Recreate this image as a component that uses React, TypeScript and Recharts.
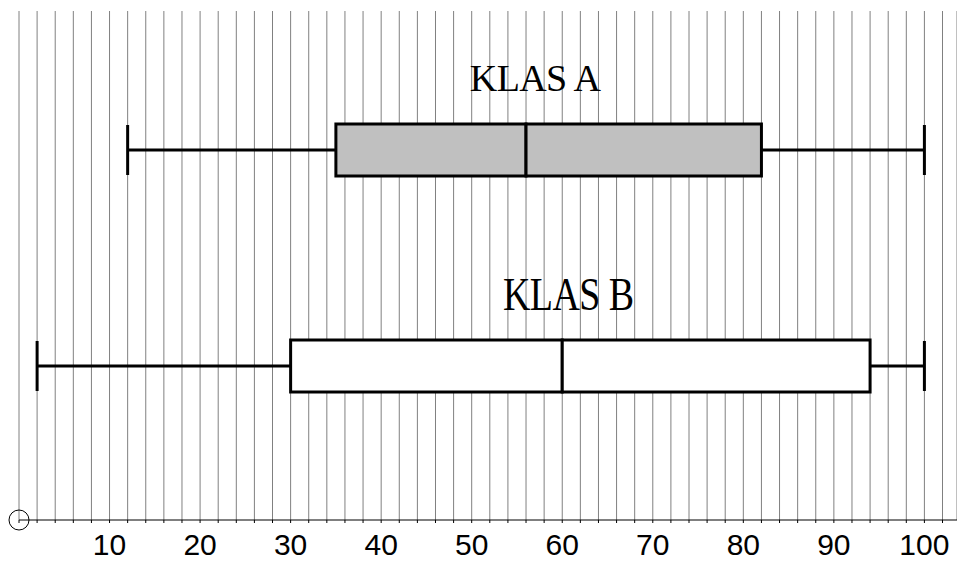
import React from 'react';
import { ComposedChart, Bar, XAxis, YAxis, CartesianGrid, Cell, LabelList } from 'recharts';

const categories = ['KLAS A', 'KLAS B'];
const minValues = [12, 2];
const q1Values = [35, 30];
const medianValues = [56, 60];
const q3Values = [82, 94];
const maxValues = [100, 100];
const boxFills = ['#c0c0c0', '#ffffff'];
const gridTicks = [0, 2, 4, 6, 8, 10, 12, 14, 16, 18, 20, 22, 24, 26, 28, 30, 32, 34, 36, 38, 40, 42, 44, 46, 48, 50, 52, 54, 56, 58, 60, 62, 64, 66, 68, 70, 72, 74, 76, 78, 80, 82, 84, 86, 88, 90, 92, 94, 96, 98, 100, 102];
const tickLabels = [10, 20, 30, 40, 50, 60, 70, 80, 90, 100];

// label placement styles (relative to the median edge of the box)
const labelStyles = [
  { dx: 9, dy: -33, sy: 1.0 },
  { dx: 6, dy: -30, sy: 1.22 },
];

const data = categories.map((name, i) => ({
  name,
  base: minValues[i],
  whiskerLow: q1Values[i] - minValues[i],
  boxLow: medianValues[i] - q1Values[i],
  boxHigh: q3Values[i] - medianValues[i],
  whiskerHigh: maxValues[i] - q3Values[i],
}));

const WhiskerLow = (props: any) => {
  const { x, y, width, height } = props;
  const cy = y + height / 2;
  return (
    <g>
      <line x1={x} x2={x + width} y1={cy} y2={cy} stroke="#000" strokeWidth={3} />
      <line x1={x} x2={x} y1={y + 1} y2={y + height - 1} stroke="#000" strokeWidth={3} />
    </g>
  );
};

const WhiskerHigh = (props: any) => {
  const { x, y, width, height } = props;
  const cy = y + height / 2;
  return (
    <g>
      <line x1={x} x2={x + width} y1={cy} y2={cy} stroke="#000" strokeWidth={3} />
      <line x1={x + width} x2={x + width} y1={y + 1} y2={y + height - 1} stroke="#000" strokeWidth={3} />
    </g>
  );
};

const BoxShape = (props: any) => {
  const { x, y, width, height, fill } = props;
  return <rect x={x} y={y} width={width} height={height} fill={fill} stroke="#000" strokeWidth={3} />;
};

const AxisTick = (props: any) => {
  const { x, y, payload } = props;
  const v = payload.value;
  return (
    <g>
      {v === 0 && <circle cx={x} cy={y - 5} r={10} fill="none" stroke="#000" strokeWidth={1} />}
      {tickLabels.includes(v) && (
        <text x={x} y={y + 30} textAnchor="middle" fontFamily="'Liberation Sans', Arial, sans-serif" fontSize={30} fill="#000">
          {v}
        </text>
      )}
    </g>
  );
};

const ClassLabel = (props: any) => {
  const { x, y, width, value, index } = props;
  const s = labelStyles[index] || labelStyles[0];
  const cx = x + width + s.dx;
  const by = y + s.dy;
  return (
    <g transform={`translate(${cx},${by}) scale(1,${s.sy})`}>
      <text
        x={0}
        y={0}
        textAnchor="middle"
        fontFamily="'Liberation Serif', 'Times New Roman', serif"
        fontSize={38}
        letterSpacing={-0.6}
        fill="#000"
      >
        {value}
      </text>
    </g>
  );
};

export default function App() {
  return (
    <div style={{ position: 'absolute', left: 0, top: 0, width: 957, height: 563, background: '#fff' }}>
      <ComposedChart
        width={957}
        height={563}
        data={data}
        layout="vertical"
        margin={{ top: 11, right: 0, left: 19, bottom: 0 }}
      >
        <CartesianGrid vertical={true} horizontal={false} stroke="#808080" strokeWidth={1} />
        <XAxis
          type="number"
          domain={[0, 103.6]}
          ticks={gridTicks}
          interval={0}
          allowDataOverflow
          height={43}
          tickSize={3}
          tickMargin={2}
          axisLine={{ stroke: '#000', strokeWidth: 1 }}
          tickLine={{ stroke: '#000' }}
          tick={<AxisTick />}
        />
        <YAxis
          type="category"
          dataKey="name"
          width={0}
          tick={false}
          tickLine={false}
          axisLine={{ stroke: '#000', strokeWidth: 1 }}
          padding={{ top: 31, bottom: 46 }}
        />
        <Bar dataKey="base" stackId="box" barSize={52} fill="none" isAnimationActive={false} />
        <Bar dataKey="whiskerLow" stackId="box" barSize={52} shape={<WhiskerLow />} isAnimationActive={false} />
        <Bar dataKey="boxLow" stackId="box" barSize={52} shape={<BoxShape />} isAnimationActive={false}>
          {data.map((d, i) => (
            <Cell key={d.name} fill={boxFills[i]} />
          ))}
          <LabelList dataKey="name" content={<ClassLabel />} />
        </Bar>
        <Bar dataKey="boxHigh" stackId="box" barSize={52} shape={<BoxShape />} isAnimationActive={false}>
          {data.map((d, i) => (
            <Cell key={d.name} fill={boxFills[i]} />
          ))}
        </Bar>
        <Bar dataKey="whiskerHigh" stackId="box" barSize={52} shape={<WhiskerHigh />} isAnimationActive={false} />
      </ComposedChart>
    </div>
  );
}
